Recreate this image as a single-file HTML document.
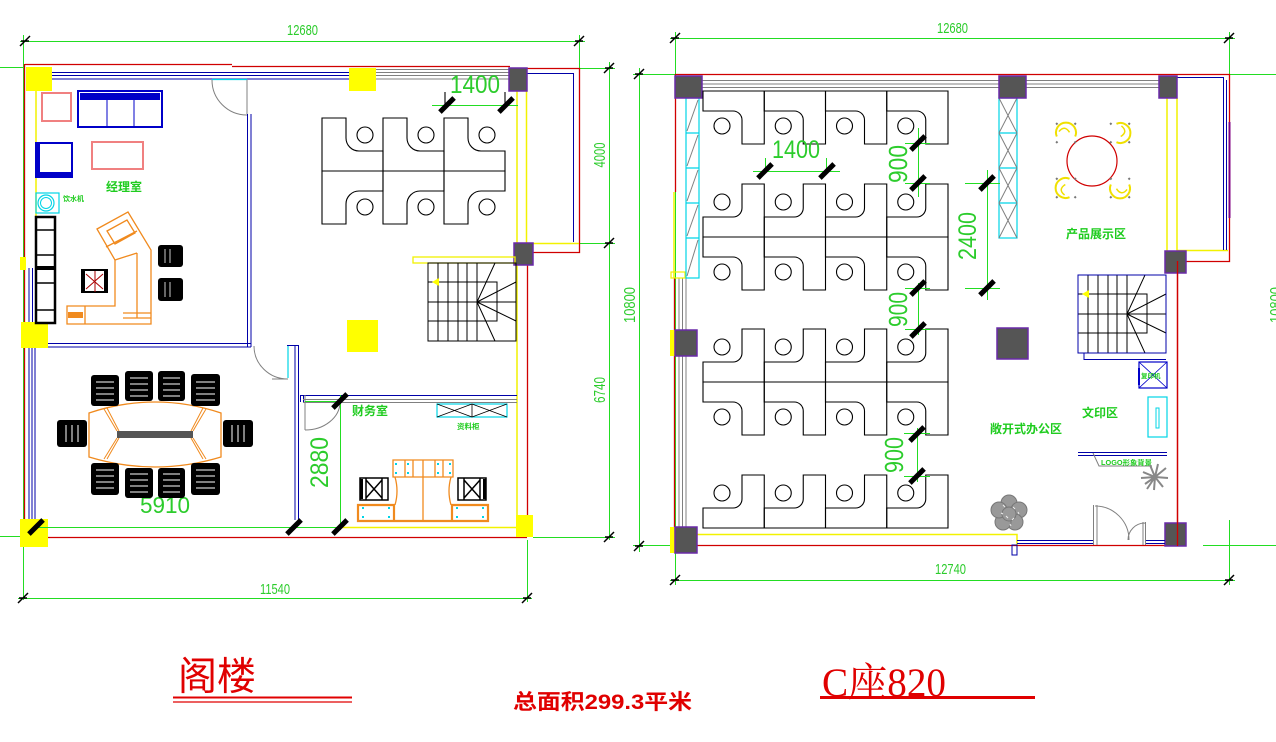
<!DOCTYPE html>
<html><head><meta charset="utf-8"><style>
html,body{margin:0;padding:0;background:#fff;width:1276px;height:742px;overflow:hidden}
svg{display:block}
.g{stroke:#22dd22;stroke-width:1;fill:none}
.r{stroke:#d00000;stroke-width:1.3;fill:none}
.b{stroke:#0000a8;stroke-width:1;fill:none}
.y{stroke:#f2f200;stroke-width:1.5;fill:none}
.k{stroke:#000;stroke-width:1.1;fill:none}
.gr{stroke:#808080;stroke-width:1;fill:none}
.c{stroke:#00d4e6;stroke-width:1.2;fill:none}
.o{stroke:#f08a1e;stroke-width:1.3;fill:none}
.col{fill:#555;stroke:#6a2aa8;stroke-width:1.5}
.yc{fill:#ffff00}
.dt{fill:#2ccc2c;font-family:"Liberation Sans",sans-serif}
.lb{fill:#1fcc1f;font-family:"Liberation Sans","Noto Sans CJK SC",sans-serif;font-weight:bold}
</style></head><body>
<svg xmlns="http://www.w3.org/2000/svg" width="1276" height="742" viewBox="0 0 1276 742">
<defs>
<g id="uA" fill="none" stroke="#000" stroke-width="1.1"><path d="M0,0 V-20 H30 A9,9 0 0 0 39,-29 V-53 H61.25 V0 Z"/><circle cx="19" cy="-35" r="8"/></g>
<g id="uC" fill="none" stroke="#000" stroke-width="1.1"><path d="M0,0 V-53 H24 V-33 A13,13 0 0 0 37,-20 H61 V0 Z"/><circle cx="43" cy="-36" r="8"/></g>
<rect id="T" x="-2.5" y="-10" width="5" height="20" fill="#000"/>
<path id="t" d="M-5,5 L5,-5 M-4,0 L4,0" stroke="#000" stroke-width="1.5" fill="none"/>
<g id="st" fill="none" stroke="#000" stroke-width="1"><path d="M10,0V78 M20,0V78 M30,0V78 M39,0V78 M49,0V78 M0,19H69V58H0 M0,39H88 M49,39L67,0 M49,39L88,19 M49,39L88,58 M49,39L67,78"/></g>
<path id="ar" d="M4,19 L11,15 L11,23 Z" fill="#ffff00"/>
<g id="ych"><path d="M-9,-4 A10,10 0 1 1 4,9" stroke="#f0e000" stroke-width="2" fill="none"/><path d="M-4,-6 Q5,-7 3,2" stroke="#f0e000" stroke-width="1.5" fill="none"/><rect x="-1" y="-14" width="2" height="2" fill="#777"/><rect x="-14" y="-1" width="2" height="2" fill="#777"/><rect x="12" y="-1" width="2" height="2" fill="#777"/><rect x="-1" y="12" width="2" height="2" fill="#777"/></g>
</defs>
<rect width="1276" height="742" fill="#fff"/>

<!-- ================= LEFT PLAN ================= -->
<!-- dimension lines -->
<path class="g" d="M20,41.5H585 M23.5,35V600 M0,67.5H25 M579.5,35V68 M609.5,62V540 M579,68.5H615 M533,243.5H615 M533,537.5H615 M18,598.5H532 M527.5,540V602 M0,536.5H22"/>
<use href="#t" transform="translate(25,41)"/><use href="#t" transform="translate(579,41)"/>
<use href="#t" transform="translate(609,68)"/><use href="#t" transform="translate(609,243)"/><use href="#t" transform="translate(609,537)"/>
<use href="#t" transform="translate(23,598)"/><use href="#t" transform="translate(527,598)"/>
<text class="dt" x="287" y="35" font-size="15" textLength="31" lengthAdjust="spacingAndGlyphs">12680</text>
<text class="dt" x="260" y="594" font-size="15" textLength="30" lengthAdjust="spacingAndGlyphs">11540</text>
<text class="dt" transform="translate(605,155) rotate(-90)" text-anchor="middle" font-size="16" textLength="25" lengthAdjust="spacingAndGlyphs">4000</text>
<text class="dt" transform="translate(605,390) rotate(-90)" text-anchor="middle" font-size="16" textLength="26" lengthAdjust="spacingAndGlyphs">6740</text>

<!-- outer walls -->
<path class="r" d="M25,64.5H232 M232,66.5H510 M527,68.5H579.5V252.5H527.5V537 M24.5,64V537 M20,537.5H527"/>
<path class="b" d="M527,73.5H573.5V242"/>
<path class="y" d="M533,243.5H579 M517,91V527 M526.5,91V243 M36,91V217 M340,527.5H516"/>
<path class="b" d="M52,72.5H349 M52,75.5H349 M52,79H349"/>
<path class="gr" d="M376,69.5H509 M376,72.5H509 M376,75.5H509 M376,79H509"/>
<rect class="yc" x="26" y="67" width="26" height="24"/>
<rect class="yc" x="349" y="68" width="27" height="23"/>
<rect class="col" x="509" y="68" width="18" height="23"/>
<rect class="col" x="514" y="243" width="19" height="22"/>
<rect class="yc" x="21" y="322" width="27" height="26"/>
<rect class="yc" x="20" y="519" width="28" height="28"/>
<rect class="yc" x="516" y="515" width="17" height="22"/>
<rect class="yc" x="347" y="320" width="31" height="32"/>
<rect class="yc" x="20" y="257" width="6" height="13"/>

<!-- manager room walls -->
<path class="b" d="M247.5,114V347 M251,114V347 M48,343.5H251 M48,347H251 M29,268V322 M32.5,268V322 M29,348V519 M32,348V519 M35,348V519"/>
<path class="c" d="M212,79.5H247"/>
<path class="gr" d="M212,80 A35,35 0 0 0 247,115 M247,80V114"/>
<!-- conference right wall -->
<path class="b" d="M295,345V520 M298.5,345V520 M287,345.5H299"/>
<path class="c" d="M288,346V378"/>
<path class="gr" d="M254,346 A34,33 0 0 0 288,379 H272"/>
<!-- finance walls -->
<path class="b" d="M300,395.5H517 M300.5,395V402 M303.5,395V402"/>
<path class="gr" d="M303,399.5H517 M303,402.5H517 M305,395V430 M305,430 A35,28 0 0 0 340,402"/>
<path class="g" d="M305,401.5H340 M340.5,395V530 M36,527.5H340"/>
<use href="#T" transform="translate(340,401) rotate(45)"/><use href="#T" transform="translate(340,527) rotate(45)"/>
<use href="#T" transform="translate(294,527) rotate(45)"/><use href="#T" transform="translate(36,527) rotate(45)"/>
<text class="dt" transform="translate(328,462.5) rotate(-90)" text-anchor="middle" font-size="25" textLength="51" lengthAdjust="spacingAndGlyphs">2880</text>
<text class="dt" x="140" y="513" font-size="23" textLength="50" lengthAdjust="spacingAndGlyphs">5910</text>

<!-- left stair -->
<rect x="413" y="257" width="102" height="6" fill="none" stroke="#f2f200" stroke-width="1.3"/>
<g transform="translate(428,263)"><rect width="88" height="78" fill="none" stroke="#000"/><use href="#st"/><use href="#ar"/></g>

<!-- left desks -->
<use href="#uC" transform="translate(322,171)"/><use href="#uC" transform="translate(383,171)"/><use href="#uC" transform="translate(444,171)"/>
<use href="#uC" transform="translate(322,171) scale(1,-1)"/><use href="#uC" transform="translate(383,171) scale(1,-1)"/><use href="#uC" transform="translate(444,171) scale(1,-1)"/>
<!-- 1400 left -->
<path class="g" d="M432,105.5H518"/>
<path class="k" d="M445,92V104 M505,92V105"/>
<use href="#T" transform="translate(447,105) rotate(45)"/><use href="#T" transform="translate(506,105) rotate(45)"/>
<text class="dt" x="450" y="93" font-size="25" textLength="50" lengthAdjust="spacingAndGlyphs">1400</text>

<!-- manager room furniture -->
<rect x="42" y="93" width="29" height="28" fill="none" stroke="#f08080" stroke-width="2"/>
<rect x="78" y="91" width="84" height="36" fill="none" stroke="#0000c8" stroke-width="2"/>
<rect x="80" y="93" width="80" height="7" fill="#0000c8"/>
<path d="M107,100V126 M134,100V126" stroke="#0000c8" stroke-width="1"/>
<rect x="36" y="143" width="36" height="34" fill="none" stroke="#0000c8" stroke-width="2"/>
<rect x="36" y="172" width="36" height="5" fill="#0000c8"/><rect x="37" y="143" width="3" height="34" fill="#0000c8"/>
<rect x="92" y="142" width="51" height="27" fill="none" stroke="#f08080" stroke-width="2"/>
<rect x="36" y="193" width="23" height="20" fill="none" stroke="#00d4e6" stroke-width="1.2"/>
<circle cx="46" cy="203" r="8" fill="none" stroke="#00d4e6" stroke-width="1.2"/><circle cx="46" cy="203" r="5.5" fill="none" stroke="#00d4e6"/>
<text class="lb" x="63" y="201" font-size="7">饮水机</text>
<text class="lb" x="106" y="191" font-size="12">经理室</text>
<rect x="36" y="217" width="19" height="106" fill="none" stroke="#000" stroke-width="2.5"/>
<path d="M36,230H55 M36,255H55 M36,283H55 M36,310H55" stroke="#000" stroke-width="1.5"/>
<rect x="36" y="266" width="19" height="4" fill="#000"/>
<path class="o" d="M97,229 L128,212 L151,250 V324 H67 V306 H115 V260 Z M107,231 L127,220 L135,233 L115,244 Z M106,247 L137,231 M115,260 L137,253 M137,253 V318 M85,306V324 M123,313H151 M123,318H151"/>
<rect x="68" y="312" width="15" height="6" fill="#f08a1e"/>
<rect x="82" y="270" width="25" height="22" fill="none" stroke="#000" stroke-width="2"/>
<rect x="81" y="271" width="4" height="20" fill="#000"/><rect x="104" y="271" width="4" height="20" fill="#000"/>
<path d="M86,274 L103,289 M86,289 L103,274 M95,271V292" stroke="#a00" stroke-width="1"/>
<rect x="158" y="245" width="25" height="22" rx="3" fill="#000"/>
<rect x="158" y="278" width="25" height="23" rx="3" fill="#000"/>
<path d="M165,249V263 M170,249V263 M165,282V297 M170,282V297" stroke="#fff" stroke-width="0.8"/>

<!-- conference -->
<path class="o" d="M89,413 Q155,391 221,413 L221,457 Q155,477 89,457 Z"/>
<path d="M104,409 L117,431 M107,408 L119,431 M117,438 L104,459 M119,438 L107,459 M206,409 L193,431 M203,408 L191,431 M193,438 L206,459 M191,438 L203,459" stroke="#f08a1e" stroke-width="1"/>
<rect x="117" y="431" width="76" height="7" fill="#555"/>
<g fill="#000">
<rect x="91" y="375" width="28" height="31" rx="3"/><rect x="125" y="371" width="28" height="30" rx="3"/><rect x="158" y="371" width="27" height="30" rx="3"/><rect x="191" y="374" width="29" height="32" rx="3"/>
<rect x="57" y="420" width="30" height="27" rx="3"/><rect x="223" y="420" width="30" height="27" rx="3"/>
<rect x="91" y="463" width="28" height="32" rx="3"/><rect x="125" y="468" width="28" height="30" rx="3"/><rect x="158" y="468" width="27" height="30" rx="3"/><rect x="191" y="463" width="29" height="32" rx="3"/>
</g>
<path stroke="#fff" stroke-width="1" d="M96,382H114 M96,388H114 M96,394H114 M96,400H114 M130,378H148 M130,384H148 M130,390H148 M130,396H148 M163,378H180 M163,384H180 M163,390H180 M163,396H180 M196,382H215 M196,388H215 M196,394H215 M196,400H215 M66,425V442 M72,425V442 M78,425V442 M232,425V442 M238,425V442 M244,425V442 M96,470H114 M96,476H114 M96,482H114 M96,488H114 M130,474H148 M130,480H148 M130,486H148 M130,492H148 M163,474H180 M163,480H180 M163,486H180 M163,492H180 M196,470H215 M196,476H215 M196,482H215 M196,488H215"/>

<!-- finance furniture -->
<text class="lb" x="352" y="415" font-size="12">财务室</text>
<rect x="437" y="404" width="70" height="13" fill="none" stroke="#00d4e6" stroke-width="1.2"/>
<path d="M472,404V417 M437,417 L472,404 M437,404 L472,417 M472,417 L507,404 M472,404 L507,417" stroke="#000" stroke-width="0.8"/>
<text class="lb" x="457" y="429" font-size="7.5">资料柜</text>
<path class="o" d="M393,460H453V477H393Z M423,460V521 M405,460V477 M413,460V477 M435,460V477 M443,460V477 M395,477 Q399,491 395,505 M451,477 Q447,491 451,505"/>
<path d="M358,505H394V521H358Z M452,505H488V521H452Z M358,521H488" stroke="#f08a1e" stroke-width="2.2" fill="none"/>
<g fill="#00d4e6"><rect x="395" y="463" width="2" height="2"/><rect x="395" y="472" width="2" height="2"/><rect x="407" y="463" width="2" height="2"/><rect x="407" y="472" width="2" height="2"/><rect x="437" y="463" width="2" height="2"/><rect x="437" y="472" width="2" height="2"/><rect x="449" y="463" width="2" height="2"/><rect x="449" y="472" width="2" height="2"/><rect x="362" y="507" width="2" height="2"/><rect x="362" y="516" width="2" height="2"/><rect x="388" y="507" width="2" height="2"/><rect x="388" y="516" width="2" height="2"/><rect x="456" y="507" width="2" height="2"/><rect x="456" y="516" width="2" height="2"/><rect x="482" y="507" width="2" height="2"/><rect x="482" y="516" width="2" height="2"/></g>
<g fill="none" stroke="#000" stroke-width="1.5">
<rect x="360" y="478" width="28" height="22"/><path d="M366,478V500 M382,478V500 M366,480 L382,498 M366,498 L382,480"/>
<rect x="458" y="478" width="28" height="22"/><path d="M464,478V500 M480,478V500 M464,480 L480,498 M464,498 L480,480"/>
</g>
<rect x="360" y="479" width="3" height="20" fill="#000"/><rect x="483" y="479" width="3" height="20" fill="#000"/>

<!-- ================= RIGHT PLAN ================= -->
<path class="g" d="M670,38.5H1235 M675.5,32V585 M1229.5,32V74 M1229,74.5H1276 M633,74.5H675 M639.5,68V552 M633,545.5H700 M1203,545.5H1276 M670,580.5H1235 M1229.5,520V585"/>
<use href="#t" transform="translate(675,38)"/><use href="#t" transform="translate(1229,38)"/>
<use href="#t" transform="translate(639,74)"/><use href="#t" transform="translate(639,546)"/>
<use href="#t" transform="translate(675,580)"/><use href="#t" transform="translate(1229,580)"/>
<text class="dt" x="937" y="33" font-size="15" textLength="31" lengthAdjust="spacingAndGlyphs">12680</text>
<text class="dt" x="935" y="574" font-size="15" textLength="31" lengthAdjust="spacingAndGlyphs">12740</text>
<text class="dt" transform="translate(635,305) rotate(-90)" text-anchor="middle" font-size="16" textLength="36" lengthAdjust="spacingAndGlyphs">10800</text>
<text class="dt" transform="translate(1281,305) rotate(-90)" text-anchor="middle" font-size="16" textLength="36" lengthAdjust="spacingAndGlyphs">10800</text>

<!-- walls -->
<path class="r" d="M675,74.5H1229.5V261.5H1177.5V545 M675.5,74V192 M674.5,278V545 M675,545.5H1186"/>
<path class="y" d="M674,192V278 M1167,98V251 M1177,98V251 M1177,250.5H1228 M697,534.5H1017V545"/>
<path d="M1229.5,122V218" stroke="#800080" stroke-width="2"/>
<path class="b" d="M1177,77.5H1223.5V250 M1226.5,80V250"/>
<path class="gr" d="M702,80.5H999 M702,84H999 M702,87.5H999 M1026,80.5H1159 M1026,84H1159 M1026,87.5H1159 M679,278V545 M682.5,278V545 M686,278V545"/>
<rect x="671" y="272" width="14" height="6" fill="none" stroke="#f2f200" stroke-width="1.2"/>
<rect class="yc" x="670" y="330" width="5" height="26"/>
<rect class="yc" x="670" y="527" width="5" height="26"/>
<!-- left cyan shelf -->
<rect x="686" y="98" width="13" height="180" fill="none" stroke="#00d4e6" stroke-width="1.2"/>
<path class="c" d="M686,133H699 M686,168H699 M686,203H699 M686,238H699"/>
<path class="gr" d="M687,131 L698,100 M687,166 L698,135 M687,201 L698,170 M687,236 L698,205 M687,276 L698,240"/>
<!-- middle cyan shelf -->
<rect x="999" y="98" width="18" height="140" fill="none" stroke="#00d4e6" stroke-width="1.2"/>
<path class="c" d="M999,133H1017 M999,168H1017 M999,203H1017"/>
<path class="gr" d="M999,98 L1017,133 M1017,98 L999,133 M999,133 L1017,168 M1017,133 L999,168 M999,168 L1017,203 M1017,168 L999,203 M999,203 L1017,238 M1017,203 L999,238"/>
<!-- columns -->
<rect class="col" x="675" y="76" width="27" height="22"/>
<rect class="col" x="999" y="76" width="27" height="22"/>
<rect class="col" x="1159" y="76" width="18" height="22"/>
<rect class="col" x="1165" y="251" width="21" height="22"/>
<rect class="col" x="997" y="328" width="31" height="31"/>
<rect class="col" x="675" y="330" width="22" height="26"/>
<rect class="col" x="675" y="527" width="22" height="26"/>
<rect class="col" x="1165" y="523" width="21" height="23"/>
<path class="r" d="M1177.5,261V546"/>

<!-- right desks -->
<use href="#uA" transform="translate(703,91) scale(1,-1)"/><use href="#uA" transform="translate(764.25,91) scale(1,-1)"/><use href="#uA" transform="translate(825.5,91) scale(1,-1)"/><use href="#uA" transform="translate(886.75,91) scale(1,-1)"/>
<use href="#uA" transform="translate(703,237)"/><use href="#uA" transform="translate(764.25,237)"/><use href="#uA" transform="translate(825.5,237)"/><use href="#uA" transform="translate(886.75,237)"/>
<use href="#uA" transform="translate(703,237) scale(1,-1)"/><use href="#uA" transform="translate(764.25,237) scale(1,-1)"/><use href="#uA" transform="translate(825.5,237) scale(1,-1)"/><use href="#uA" transform="translate(886.75,237) scale(1,-1)"/>
<use href="#uA" transform="translate(703,382)"/><use href="#uA" transform="translate(764.25,382)"/><use href="#uA" transform="translate(825.5,382)"/><use href="#uA" transform="translate(886.75,382)"/>
<use href="#uA" transform="translate(703,382) scale(1,-1)"/><use href="#uA" transform="translate(764.25,382) scale(1,-1)"/><use href="#uA" transform="translate(825.5,382) scale(1,-1)"/><use href="#uA" transform="translate(886.75,382) scale(1,-1)"/>
<use href="#uA" transform="translate(703,528)"/><use href="#uA" transform="translate(764.25,528)"/><use href="#uA" transform="translate(825.5,528)"/><use href="#uA" transform="translate(886.75,528)"/>

<!-- right interior dims -->
<path class="g" d="M753,171.5H840 M765.5,158V171 M826.5,158V171 M905,143.5H930 M905,183.5H930 M918.5,128V197 M905,288.5H930 M905,329.5H930 M918.5,283V335 M904,433.5H930 M904,476.5H930 M917.5,428V482 M965,183.5H1000 M965,288.5H1000 M987.5,170V300"/>
<use href="#T" transform="translate(765,171) rotate(45)"/><use href="#T" transform="translate(827,171) rotate(45)"/>
<use href="#T" transform="translate(918,143) rotate(45)"/><use href="#T" transform="translate(918,183) rotate(45)"/>
<use href="#T" transform="translate(987,183) rotate(45)"/><use href="#T" transform="translate(987,288) rotate(45)"/>
<use href="#T" transform="translate(918,288) rotate(45)"/><use href="#T" transform="translate(918,330) rotate(45)"/>
<use href="#T" transform="translate(917,434) rotate(45)"/><use href="#T" transform="translate(917,476) rotate(45)"/>
<text class="dt" x="772" y="158" font-size="25" textLength="48" lengthAdjust="spacingAndGlyphs">1400</text>
<text class="dt" transform="translate(907,164) rotate(-90)" text-anchor="middle" font-size="26" textLength="38" lengthAdjust="spacingAndGlyphs">900</text>
<text class="dt" transform="translate(907,309.5) rotate(-90)" text-anchor="middle" font-size="26" textLength="35" lengthAdjust="spacingAndGlyphs">900</text>
<text class="dt" transform="translate(903,455) rotate(-90)" text-anchor="middle" font-size="26" textLength="36" lengthAdjust="spacingAndGlyphs">900</text>
<text class="dt" transform="translate(976,236) rotate(-90)" text-anchor="middle" font-size="25" textLength="48" lengthAdjust="spacingAndGlyphs">2400</text>

<!-- product display -->
<circle cx="1092" cy="161" r="25" fill="none" stroke="#d00000" stroke-width="1.2"/>
<use href="#ych" transform="translate(1066,133) rotate(-45)"/>
<use href="#ych" transform="translate(1120,133) rotate(45)"/>
<use href="#ych" transform="translate(1066,188) rotate(-135)"/>
<use href="#ych" transform="translate(1120,188) rotate(135)"/>
<text class="lb" x="1066" y="238" font-size="12">产品展示区</text>

<!-- right stair -->
<g transform="translate(1078,275)"><use href="#st"/><rect width="88" height="78" fill="none" stroke="#0000a8"/><use href="#ar"/></g>
<path class="b" d="M1084,353V359.5H1166"/>
<!-- copier etc -->
<rect x="1139" y="362" width="28" height="26" fill="none" stroke="#0000c8" stroke-width="1.2"/>
<path d="M1139,362 L1167,388 M1167,362 L1139,388" stroke="#0000c8" stroke-width="0.8"/>
<rect x="1138" y="368" width="2" height="17" fill="#0000c8"/>
<text class="lb" x="1141" y="378" font-size="6.5">复印机</text>
<rect x="1148" y="397" width="19" height="40" fill="none" stroke="#00d4e6" stroke-width="1.2"/>
<rect x="1156" y="408" width="3" height="20" fill="none" stroke="#00d4e6" stroke-width="1"/>
<path class="b" d="M1078,452.5H1167 M1078,455.5H1167"/>
<path class="gr" d="M1093,453 L1099,466 H1152"/>
<text class="lb" x="1101" y="465" font-size="7" textLength="51" lengthAdjust="spacingAndGlyphs">LOGO形象背景</text>
<text class="lb" x="1082" y="417" font-size="12">文印区</text>
<text class="lb" x="990" y="433" font-size="12">敞开式办公区</text>
<!-- plants -->
<g stroke="#888" stroke-width="2" fill="none">
<path d="M1155,477 L1143,472 M1155,477 L1145,484 M1155,477 L1150,465 M1155,477 L1158,464 M1155,477 L1166,468 M1155,477 L1168,478 M1155,477 L1163,487 M1155,477 L1154,490 M1155,477 L1147,489 M1155,477 L1141,478"/>
</g>
<g fill="#999" stroke="#777" stroke-width="1">
<circle cx="1009" cy="503" r="8"/><circle cx="1019" cy="510" r="8"/><circle cx="1015" cy="522" r="8"/><circle cx="1003" cy="522" r="8"/><circle cx="999" cy="510" r="8"/><circle cx="1009" cy="514" r="7"/>
</g>
<path d="M1003,505 l2,2 M1013,507 l2,2 M1006,516 l2,2 M1014,518 l-2,2 M1001,513 l2,1 M1010,524 l1,2 M1018,512 l1,2" stroke="#eee" stroke-width="1"/>
<!-- bottom wall & doors -->
<rect x="1012" y="545" width="5" height="10" fill="none" stroke="#0000a8"/>
<path class="b" d="M1017,540.5H1093 M1017,543.5H1093 M1145,540.5H1165 M1145,543.5H1165"/>
<path class="gr" d="M1093.5,505V545 M1097,505V545 M1143,522V545 M1145.5,522V545 M1095,506 A34,34 0 0 1 1129,540 M1128,540 A17,17 0 0 1 1145,523"/>

<!-- ================= TITLES ================= -->
<text x="178" y="690" font-size="39" fill="#e00000" font-family="'Liberation Sans','Noto Sans CJK SC',sans-serif">阁楼</text>
<path d="M173,697.5H352" stroke="#e00000" stroke-width="2"/>
<path d="M173,702H352" stroke="#e00000" stroke-width="1.2"/>
<text x="513" y="709" font-size="21" font-weight="bold" fill="#e00000" textLength="179" lengthAdjust="spacingAndGlyphs" font-family="'Liberation Sans','Noto Sans CJK SC',sans-serif">总面积299.3平米</text>
<text x="822" y="696" font-size="40" fill="#e00000" textLength="124" lengthAdjust="spacingAndGlyphs" font-family="'Liberation Serif','Noto Serif CJK SC',serif">C座820</text>
<path d="M820,697.5H1035" stroke="#e00000" stroke-width="3"/>
</svg>
</body></html>
